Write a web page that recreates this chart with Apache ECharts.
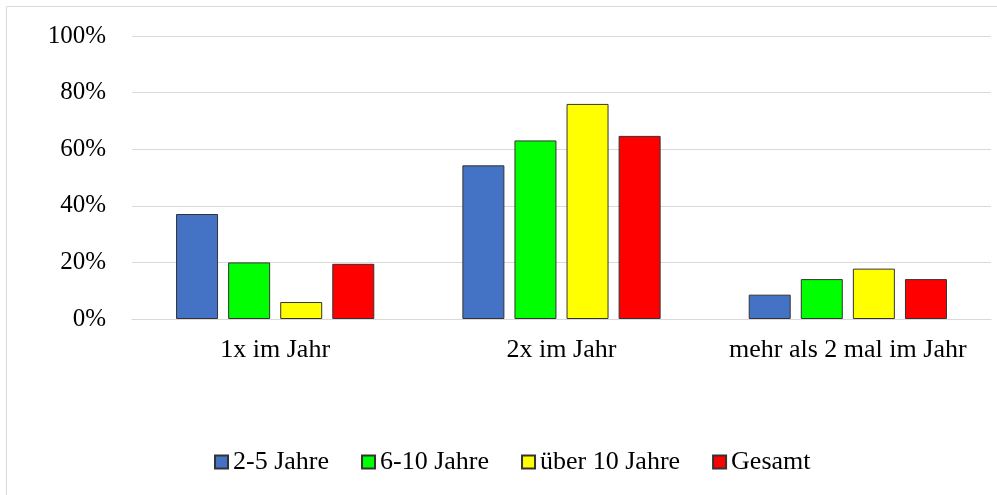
<!DOCTYPE html>
<html>
<head>
<meta charset="utf-8">
<script src="https://cdn.jsdelivr.net/npm/echarts@6/dist/echarts.min.js"></script>
<style>
  html, body { margin: 0; padding: 0; background: #fff; }
  #chart { width: 997px; height: 495px; }
</style>
</head>
<body>
<div id="chart"></div>
<script>
// Häufigkeit pro Jahr, aufgeteilt nach Altersgruppe (Anteile in %)
const categories = ['1x im Jahr', '2x im Jahr', 'mehr als 2 mal im Jahr'];
const seriesNames = ['2-5 Jahre', '6-10 Jahre', 'über 10 Jahre', 'Gesamt'];
const jahre2bis5 = [37.1, 54.3, 8.6];
const jahre6bis10 = [20.0, 63.1, 14.1];
const ueber10 = [6.0, 76.0, 17.8];
const gesamt = [19.5, 64.7, 14.1];
const yTicks = [0, 20, 40, 60, 80, 100];

const colors = ['#4472C4', '#00FF00', '#FFFF00', '#FF0000'];
const values = [jahre2bis5, jahre6bis10, ueber10, gesamt];
const font = '"Liberation Serif", "Times New Roman", serif';

const chart = echarts.init(document.getElementById('chart'), null, { renderer: 'canvas' });

chart.setOption({
  animation: false,
  backgroundColor: '#fff',
  graphic: [{
    type: 'rect',
    shape: { x: 6.5, y: 6.5, width: 1200, height: 1200 },
    style: { fill: 'none', stroke: '#d9d9d9', lineWidth: 1 },
    silent: true
  }],
  grid: { left: 132, right: 6, top: 36, bottom: 176 },
  legend: {
    data: seriesNames,
    left: 214,
    top: 449,
    padding: 0,
    itemWidth: 13,
    itemHeight: 13,
    itemGap: 32,
    icon: 'rect',
    textStyle: { fontFamily: font, fontSize: 26, color: '#000', lineHeight: 26 }
  },
  xAxis: {
    type: 'category',
    data: categories,
    axisTick: { show: false },
    axisLine: { show: true, lineStyle: { color: '#d9d9d9', width: 1 } },
    axisLabel: { fontFamily: font, fontSize: 26, color: '#000', margin: 18, interval: 0 }
  },
  yAxis: {
    type: 'value',
    min: yTicks[0],
    max: yTicks[yTicks.length - 1],
    interval: yTicks[1] - yTicks[0],
    axisLine: { show: false },
    axisTick: { show: false },
    splitLine: { lineStyle: { color: '#d9d9d9', width: 1 } },
    axisLabel: { fontFamily: font, fontSize: 25, color: '#000', margin: 26, formatter: '{value}%' }
  },
  series: seriesNames.map((name, i) => ({
    name: name,
    type: 'bar',
    data: values[i],
    barWidth: 42,
    barGap: '24%',
    itemStyle: { color: colors[i], borderColor: '#333333', borderWidth: 1 }
  }))
});
</script>
</body>
</html>
